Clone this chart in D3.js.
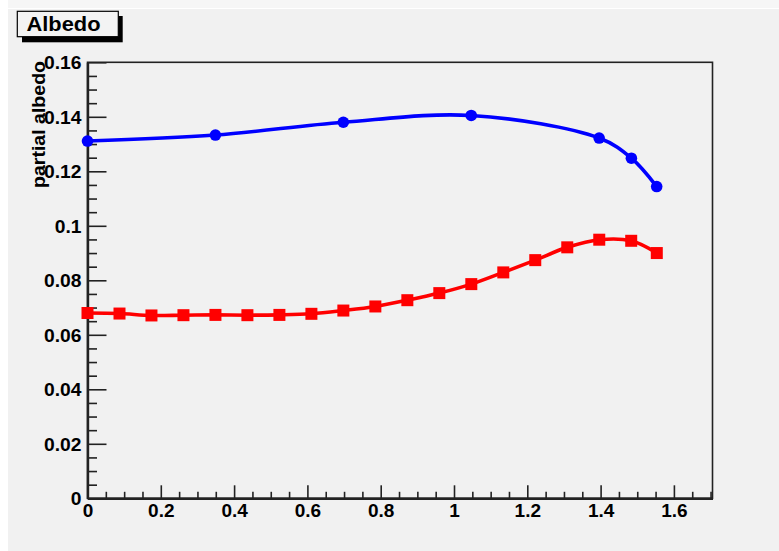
<!DOCTYPE html>
<html>
<head>
<meta charset="utf-8">
<script src="https://cdn.jsdelivr.net/npm/d3@7"></script>
<style>
html,body{margin:0;padding:0;background:#ffffff;}
svg{display:block;}
text{font-family:"Liberation Sans",Arial,Helvetica,sans-serif;font-weight:bold;fill:#000;}
</style>
</head>
<body>
<svg id="chart" width="779" height="551"></svg>
<script>
// ---- data ----
const blueX = [0, 0.349, 0.698, 1.047, 1.396, 1.484, 1.553];
const blueY = [0.1311, 0.1333, 0.1380, 0.1405, 0.1322, 0.1248, 0.1144];
const redX = [0, 0.0873, 0.1745, 0.2618, 0.3491, 0.4363, 0.5236, 0.6109, 0.6981,
              0.7854, 0.8727, 0.9599, 1.0472, 1.1345, 1.2217, 1.3090, 1.3963, 1.4835, 1.5533];
const redY = [0.0680, 0.0678, 0.0671, 0.0672, 0.0673, 0.0672, 0.0673, 0.0677, 0.0689,
              0.0704, 0.0727, 0.0753, 0.0786, 0.0829, 0.0874, 0.0921, 0.0949, 0.0945, 0.0900];
const yMajorTicks = [0, 0.02, 0.04, 0.06, 0.08, 0.1, 0.12, 0.14, 0.16];
const yTickLabels = ["0", "0.02", "0.04", "0.06", "0.08", "0.1", "0.12", "0.14", "0.16"];
const xMajorTicks = [0, 0.2, 0.4, 0.6, 0.8, 1.0, 1.2, 1.4, 1.6];
const xTickLabels = ["0", "0.2", "0.4", "0.6", "0.8", "1", "1.2", "1.4", "1.6"];
const yTitle = "partial albedo";
const boxTitle = "Albedo";

const svg = d3.select("#chart");

// background
svg.append("rect").attr("x", 0).attr("y", 0).attr("width", 779).attr("height", 551).attr("fill", "#ffffff");
svg.append("rect").attr("x", 8).attr("y", 0).attr("width", 771).attr("height", 8).attr("fill", "#f6f6f6");
svg.append("rect").attr("x", 8).attr("y", 9).attr("width", 771).attr("height", 542).attr("fill", "#f1f1f1");

const L = 87.5, R = 712.5, T = 62.3, B = 498.3;
const x = d3.scaleLinear().domain([0, 1.7053]).range([L, R]);
const y = d3.scaleLinear().domain([0, 0.16]).range([B, T]);

// frame
svg.append("rect").attr("x", L).attr("y", T).attr("width", R - L).attr("height", B - T)
  .attr("fill", "none").attr("stroke", "#222").attr("stroke-width", 1.6);

// minor ticks
const yMinor = d3.range(0, 0.1601, 0.005).filter(v => !yMajorTicks.some(m => Math.abs(m - v) < 1e-6));
const xMinor = d3.range(0, 1.7001, 0.05).filter(v => !xMajorTicks.some(m => Math.abs(m - v) < 1e-6));

const yAxisMinor = svg.append("g").attr("transform", `translate(${L},0)`)
  .call(d3.axisLeft(y).tickValues(yMinor).tickSize(-9.5).tickSizeOuter(0).tickFormat(""));
const yAxis = svg.append("g").attr("transform", `translate(${L},0)`)
  .call(d3.axisLeft(y).tickValues(yMajorTicks).tickSize(-19).tickSizeOuter(0).tickPadding(6)
        .tickFormat((d, i) => yTickLabels[i]));
const xAxisMinor = svg.append("g").attr("transform", `translate(0,${B})`)
  .call(d3.axisBottom(x).tickValues(xMinor).tickSize(-6.5).tickSizeOuter(0).tickFormat(""));
const xAxis = svg.append("g").attr("transform", `translate(0,${B})`)
  .call(d3.axisBottom(x).tickValues(xMajorTicks).tickSize(-13).tickSizeOuter(0).tickPadding(5)
        .tickFormat((d, i) => xTickLabels[i]));

[yAxisMinor, yAxis, xAxisMinor, xAxis].forEach(g => {
  g.select(".domain").attr("stroke", "#222").attr("stroke-width", 2.2);
  g.selectAll(".tick line").attr("stroke", "#222").attr("stroke-width", 1.6);
});
yAxis.selectAll(".tick text").attr("font-size", 18).attr("font-family", null).attr("fill", "#000")
  .attr("dy", "0.36em")
  .each(function () {
    const w = this.getComputedTextLength();
    d3.select(this).attr("textLength", w * 1.07).attr("lengthAdjust", "spacingAndGlyphs");
  });
xAxis.selectAll(".tick text").attr("font-size", 19).attr("font-family", null).attr("fill", "#000")
  .attr("dy", "0.72em");

// y title
const yt = svg.append("text")
  .attr("transform", `translate(45,61) rotate(-90)`)
  .attr("text-anchor", "end")
  .attr("font-size", 17.5)
  .text(yTitle);
yt.attr("textLength", 127).attr("lengthAdjust", "spacingAndGlyphs");

// series
const line = d3.line().x(d => x(d[0])).y(d => y(d[1])).curve(d3.curveCatmullRom.alpha(0.5));
const blue = blueX.map((v, i) => [v, blueY[i]]);
const red = redX.map((v, i) => [v, redY[i]]);

svg.append("path").attr("d", line(red)).attr("fill", "none").attr("stroke", "#ff0000").attr("stroke-width", 3.6);
svg.append("path").attr("d", line(blue)).attr("fill", "none").attr("stroke", "#0000ff").attr("stroke-width", 3.6);

svg.selectAll("rect.redpt").data(red).enter().append("rect").attr("class", "redpt")
  .attr("x", d => x(d[0]) - 6).attr("y", d => y(d[1]) - 6)
  .attr("width", 12).attr("height", 12).attr("fill", "#ff0000");
svg.selectAll("circle.bluept").data(blue).enter().append("circle").attr("class", "bluept")
  .attr("cx", d => x(d[0])).attr("cy", d => y(d[1])).attr("r", 5.8).attr("fill", "#0000ff");

// title box with shadow
svg.append("rect").attr("x", 22).attr("y", 16).attr("width", 100.7).attr("height", 26.3).attr("fill", "#000");
svg.append("rect").attr("x", 17.3).attr("y", 11.3).attr("width", 101).attr("height", 25.4)
  .attr("fill", "#f3f3f3").attr("stroke", "#000").attr("stroke-width", 1.2);
const bt = svg.append("text").attr("x", 26.5).attr("y", 30.5).attr("font-size", 20).text(boxTitle);
bt.attr("textLength", 74).attr("lengthAdjust", "spacingAndGlyphs");
</script>
</body>
</html>
